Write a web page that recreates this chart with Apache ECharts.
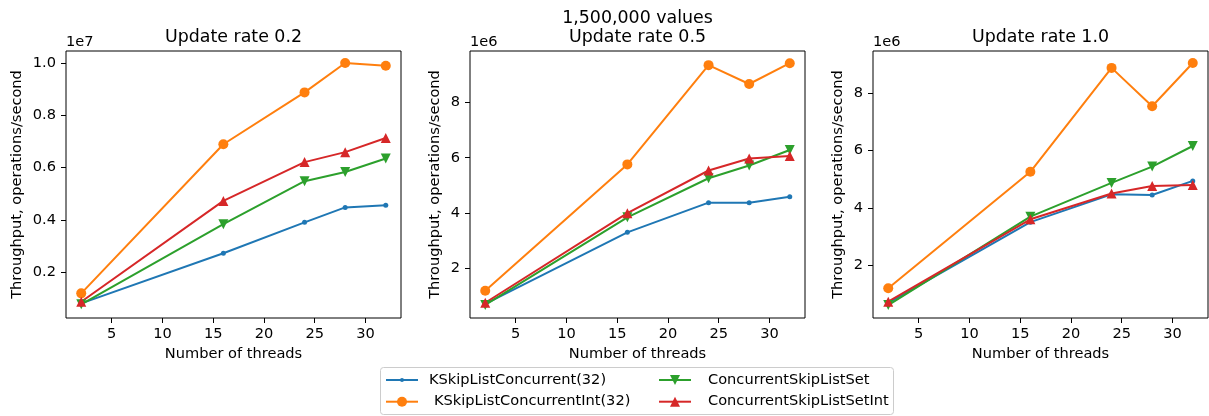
<!DOCTYPE html>
<html><head><meta charset="utf-8">
<script src="https://cdn.jsdelivr.net/npm/echarts@6/dist/echarts.min.js"></script>
<style>html,body{margin:0;padding:0;background:#fff}#c{width:1209px;height:416px}</style>
</head><body><div id="c"></div>
<script>
// ---- data ----
const threads = [2, 16, 24, 28, 32];
const seriesNames = ['KSkipListConcurrent(32)', 'KSkipListConcurrentInt(32)', 'ConcurrentSkipListSet', 'ConcurrentSkipListSetInt'];
const suptitle = '1,500,000 values';
const panelTitles = ['Update rate 0.2', 'Update rate 0.5', 'Update rate 1.0'];
const xTicks = [5, 10, 15, 20, 25, 30];
const yTicks02 = [2e6, 4e6, 6e6, 8e6, 10e6];
const yTicks05 = [2e6, 4e6, 6e6, 8e6];
const yTicks10 = [2e6, 4e6, 6e6, 8e6];
const xLabel = 'Number of threads';
const yLabel = 'Throughput, operations/second';

// throughput, operations/second
const rate02_kskip     = [0.82e6, 2.73e6, 3.91e6, 4.48e6, 4.56e6];
const rate02_kskipInt  = [1.20e6, 6.89e6, 8.87e6, 9.99e6, 9.89e6];
const rate02_cslSet    = [0.78e6, 3.84e6, 5.48e6, 5.83e6, 6.35e6];
const rate02_cslSetInt = [0.88e6, 4.73e6, 6.21e6, 6.59e6, 7.13e6];

const rate05_kskip     = [0.73e6, 3.31e6, 4.38e6, 4.38e6, 4.59e6];
const rate05_kskipInt  = [1.20e6, 5.76e6, 9.34e6, 8.66e6, 9.41e6];
const rate05_cslSet    = [0.69e6, 3.85e6, 5.26e6, 5.72e6, 6.28e6];
const rate05_cslSetInt = [0.77e6, 4.00e6, 5.54e6, 5.97e6, 6.06e6];

const rate10_kskip     = [0.68e6, 3.50e6, 4.47e6, 4.45e6, 4.94e6];
const rate10_kskipInt  = [1.19e6, 5.26e6, 8.89e6, 7.55e6, 9.06e6];
const rate10_cslSet    = [0.60e6, 3.69e6, 4.87e6, 5.44e6, 6.16e6];
const rate10_cslSetInt = [0.72e6, 3.60e6, 4.50e6, 4.76e6, 4.80e6];

// ---- presentation ----
const FONT = 'DejaVu Sans';
const FS = 14.6;
const TFS = 17.4;
const colors = ['#1f77b4', '#ff7f0e', '#2ca02c', '#d62728'];
const symbols = ['circle', 'circle', 'triangle', 'triangle'];
const symbolSizes = [5, 10, 10, 10];
const symbolRotates = [0, 0, 180, 0];

const panels = [
  { data: [rate02_kskip, rate02_kskipInt, rate02_cslSet, rate02_cslSetInt], ticks: yTicks02, scale: 1e7, exp: '1e7', dec: 1, min: 0.26e6, max: 10.45e6, left: 66, nameGap: 41 },
  { data: [rate05_kskip, rate05_kskipInt, rate05_cslSet, rate05_cslSetInt], ticks: yTicks05, scale: 1e6, exp: '1e6', dec: 0, min: 0.22e6, max: 9.85e6, left: 470, nameGap: 27 },
  { data: [rate10_kskip, rate10_kskipInt, rate10_cslSet, rate10_cslSetInt], ticks: yTicks10, scale: 1e6, exp: '1e6', dec: 0, min: 0.15e6, max: 9.48e6, left: 873, nameGap: 27 }
];

const grids = [], xAxes = [], yAxes = [], series = [], graphics = [];
panels.forEach((p, i) => {
  grids.push({ left: p.left, top: 51, width: 335, height: 267, show: true, borderColor: '#000', borderWidth: 1, backgroundColor: '#fff', containLabel: false });
  xAxes.push({
    type: 'value', gridIndex: i, min: 0.5, max: 33.5,
    name: xLabel, nameLocation: 'middle', nameGap: 27,
    nameTextStyle: { fontFamily: FONT, fontSize: FS, color: '#000' },
    axisLine: { show: false },
    axisTick: { show: true, length: 5, customValues: xTicks, lineStyle: { color: '#000', width: 1 } },
    axisLabel: { customValues: xTicks, margin: 9, fontFamily: FONT, fontSize: FS, color: '#000' },
    splitLine: { show: false }
  });
  yAxes.push({
    type: 'value', gridIndex: i, min: p.min, max: p.max,
    name: yLabel, nameLocation: 'middle', nameGap: p.nameGap,
    nameTextStyle: { fontFamily: FONT, fontSize: FS, color: '#000' },
    axisLine: { show: false },
    axisTick: { show: true, length: 5, customValues: p.ticks, lineStyle: { color: '#000', width: 1 } },
    axisLabel: { customValues: p.ticks, margin: 10, fontFamily: FONT, fontSize: FS, color: '#000',
      formatter: v => (v / p.scale).toFixed(p.dec) },
    splitLine: { show: false }
  });
  graphics.push({
    type: 'text', left: p.left, top: 35,
    style: { text: p.exp, fontFamily: FONT, fontSize: FS, fill: '#000' }
  });
  graphics.push({
    type: 'text', x: p.left + 167.5, y: 37.5,
    style: { text: panelTitles[i], fontFamily: FONT, fontSize: TFS, fill: '#000', align: 'center', verticalAlign: 'middle' }
  });
  p.data.forEach((vals, k) => {
    series.push({
      type: 'line', name: seriesNames[k], xAxisIndex: i, yAxisIndex: i,
      data: threads.map((t, j) => [t, vals[j]]),
      symbol: symbols[k], symbolSize: symbolSizes[k], symbolRotate: symbolRotates[k],
      showSymbol: true, showAllSymbol: true,
      lineStyle: { color: colors[k], width: 2 },
      itemStyle: { color: colors[k] },
      emphasis: { disabled: true }, animation: false, clip: false
    });
  });
});

graphics.push({
  type: 'text', x: 637.5, y: 18,
  style: { text: suptitle, fontFamily: FONT, fontSize: TFS, fill: '#000', align: 'center', verticalAlign: 'middle' }
});
// legend frame
graphics.push({
  type: 'rect', shape: { x: 380.5, y: 367.5, width: 513, height: 47, r: 3 },
  style: { fill: 'rgba(255,255,255,0.8)', stroke: '#cccccc', lineWidth: 1 }, z: -1
});

const legendPos = [
  { left: 385, cy: 380, h: 5, pad: 6 },
  { left: 385, cy: 401.7, h: 12.5, pad: 11 },
  { left: 658, cy: 380, h: 12.5, pad: 12 },
  { left: 658, cy: 401.7, h: 12.5, pad: 12 }
];
const legends = seriesNames.map((n, k) => ({
  data: [n], left: legendPos[k].left, top: legendPos[k].cy - Math.max(legendPos[k].h, 15) / 2,
  padding: 0, itemWidth: 32, itemHeight: legendPos[k].h, selectedMode: false,
  textStyle: { fontFamily: FONT, fontSize: FS, color: '#000', padding: [0, 0, 0, legendPos[k].pad] }
}));

const chart = echarts.init(document.getElementById('c'), null, { renderer: 'canvas' });
chart.setOption({
  animation: false,
  backgroundColor: '#fff',
  textStyle: { fontFamily: FONT },
  grid: grids, xAxis: xAxes, yAxis: yAxes, series: series,
  legend: legends,
  graphic: graphics
});
</script></body></html>
